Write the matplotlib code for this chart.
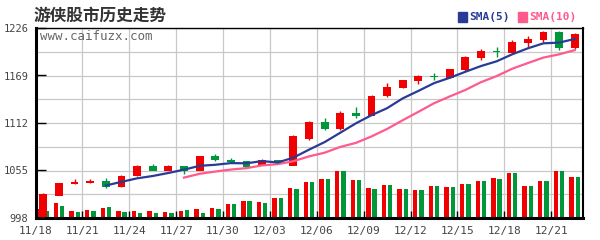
import numpy as np
import pandas as pd
import matplotlib.pyplot as plt
from matplotlib.patches import Rectangle

# data
opens = [999, 1025, 1039, 1040, 1042, 1035, 1048, 1061, 1055, 1060,
         1055, 1072, 1068, 1066, 1061, 1068, 1061, 1093, 1113, 1104.5,
         1124, 1121, 1145, 1154, 1163, 1169, 1166.5, 1176, 1190, 1198.3,
         1196.5, 1208.3, 1212, 1221, 1202.3]
highs = [1028, 1040, 1044.5, 1044.5, 1045.6, 1049.2, 1061.3, 1062.5, 1061.3, 1060,
         1072, 1074.5, 1069.7, 1066, 1069, 1068, 1097.3, 1114.5, 1118, 1126,
         1131, 1145.4, 1160, 1163.5, 1170, 1172, 1177, 1192.5, 1200.7, 1203,
         1211.5, 1216.4, 1222.4, 1222.4, 1220]
lows = [999, 1025, 1038.7, 1039.6, 1034, 1034.8, 1048, 1055, 1055, 1050.4,
        1055, 1066, 1064.9, 1058.8, 1061, 1063.6, 1061, 1091, 1103, 1103,
        1118, 1121, 1143, 1154, 1159, 1164, 1166.5, 1174, 1188, 1191,
        1195, 1203.5, 1209.5, 1200, 1200.7]
closes = [1027, 1040, 1041, 1042, 1035, 1049, 1061, 1055, 1060, 1055,
          1072, 1067.3, 1065, 1059, 1068, 1064, 1096, 1113, 1104.5, 1124,
          1120.5, 1145, 1155, 1163.5, 1168.6, 1167, 1177, 1191, 1198, 1197,
          1209, 1213, 1221, 1202.3, 1218.8]
vol_red = [9, 15, 7, 8, 10, 7, 7, 7, 6, 7, 9, 10, 14, 17, 16, 20, 30, 36,
           39, 47, 38, 30, 33, 29, 28, 32, 31, 34, 37, 40, 45, 32, 37, 47, 41]
vol_green = [7, 12, 6, 7, 11, 6, 5, 5, 5, 8, 5, 9, 14, 17, 15, 20, 29, 36,
             39, 47, 38, 29, 33, 29, 28, 32, 31, 34, 37, 39, 45, 32, 37, 47, 41]
date_labels = ['11/18', '11/21', '11/24', '11/27', '11/30', '12/03',
               '12/06', '12/09', '12/12', '12/15', '12/18', '12/21']
price_ticks = [998, 1055, 1112, 1169, 1226]

RED = '#f00000'
GREEN = '#00963a'
BLUE = '#283c96'
PINK = '#ff5a8c'

df = pd.DataFrame({'open': opens, 'high': highs, 'low': lows, 'close': closes})
df['sma5'] = df['close'].rolling(5).mean()
df['sma10'] = df['close'].rolling(10).mean()
x = np.arange(len(df)) + 0.5

fig = plt.figure(figsize=(6, 2.4), dpi=100)
axv = fig.add_axes([35.5 / 600, 1 - 218 / 240, 547 / 600, 190 / 240])
ax = axv.twinx()

# volume + grid on the lower axes
axv.set_xlim(0, len(df))
axv.set_ylim(0, 190)
axv.set_yticks(np.linspace(0, 190, 9))
axv.set_xticks(range(0, len(df), 3))
axv.grid(True, color='#c8c8c8', lw=0.9)
axv.tick_params(length=0, labelleft=False, labelbottom=False,
                labelright=False)
for s in axv.spines.values():
    s.set_visible(False)
axv.bar(x - 0.2, vol_red, width=0.28, color=RED, zorder=2)
axv.bar(x + 0.2, vol_green, width=0.28, color=GREEN, zorder=2)

# candles
up = df['close'] >= df['open']
colors = np.where(up, RED, GREEN)
body = np.maximum((df['close'] - df['open']).abs(), 0.9)
bottom = np.minimum(df['open'], df['close'])
ax.vlines(x, df['low'], df['high'], colors=colors, lw=1, zorder=3)
ax.bar(x, body, bottom=bottom, width=0.5, color=colors, zorder=4)

ax.plot(x, df['sma10'], color=PINK, lw=1.6, zorder=5)
ax.plot(x, df['sma5'], color=BLUE, lw=1.6, zorder=6)

ax.set_xlim(0, len(df))
ax.set_ylim(998, 1226)
ax.yaxis.tick_left()
ax.set_yticks(price_ticks)
ax.set_yticklabels([str(t) for t in price_ticks], family='DejaVu Sans Mono',
                   fontsize=7.5, color='#444444')
ax.tick_params(axis='y', direction='in', length=7, width=1, pad=5,
               color='black')

# twinx hides the x axis of the new axes; bring it back for the dates
ax.xaxis.set_visible(True)
ax.xaxis.tick_bottom()
ax.set_xticks(range(0, len(df), 3))
ax.set_xticklabels(date_labels, family='DejaVu Sans Mono', fontsize=8,
                   color='#444444')
ax.tick_params(axis='x', direction='in', length=5, width=1, pad=6,
               color='black')
ax.spines['left'].set_linewidth(2.2)
ax.spines['bottom'].set_linewidth(2.2)
ax.spines['top'].set_linewidth(1.0)
ax.spines['right'].set_linewidth(1.5)

ax.text(0.008, 0.955, 'www.caifuzx.com', transform=ax.transAxes,
        family='DejaVu Sans Mono', fontsize=9, color='#666666',
        va='center', ha='left')

fig.text(33 / 600, 1 - 16 / 240, '游侠股市历史走势',
         family=['Noto Sans CJK SC', 'DejaVu Sans'], fontsize=12,
         fontweight='bold', color='#333333', va='center', ha='left')

# legend
fig.patches.append(Rectangle((458 / 600, 1 - 22 / 240), 9 / 600, 10 / 240,
                             transform=fig.transFigure, color=BLUE))
fig.text(469 / 600, 1 - 17 / 240, 'SMA(5)', family='DejaVu Sans Mono',
         fontsize=8, fontweight='bold', color=BLUE, va='center')
fig.patches.append(Rectangle((518 / 600, 1 - 22 / 240), 9 / 600, 10 / 240,
                             transform=fig.transFigure, color=PINK))
fig.text(529 / 600, 1 - 17 / 240, 'SMA(10)', family='DejaVu Sans Mono',
         fontsize=8, fontweight='bold', color=PINK, va='center')

fig.savefig('out.png', dpi=100)
